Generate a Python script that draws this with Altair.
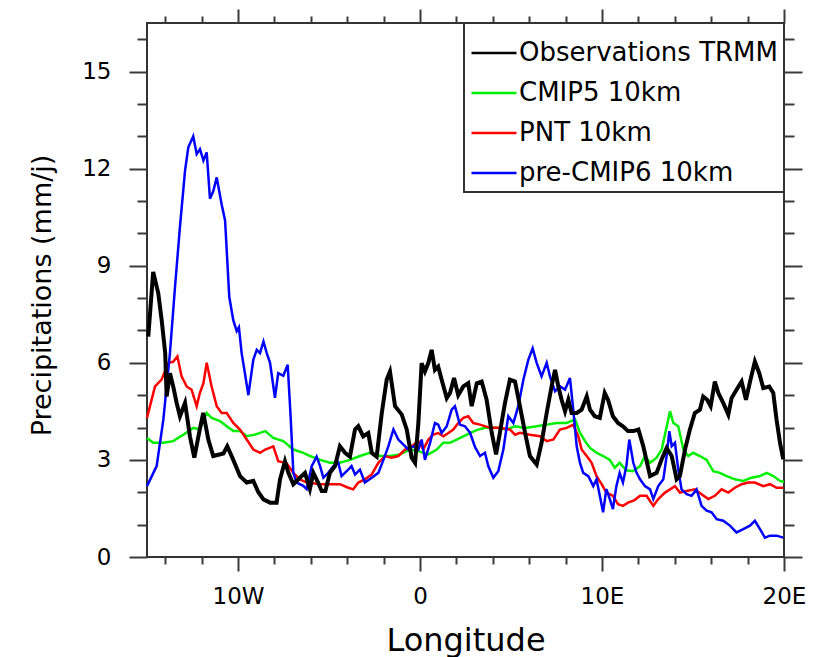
import altair as alt
import pandas as pd

FONT = "DejaVu Sans"
TICK = "#3a3a3a"

series_names = ["Observations TRMM", "CMIP5 10km", "PNT 10km", "pre-CMIP6 10km"]
series_colors = ["#000000", "#00ee00", "#ff0000", "#0000ff"]

x_major = [-10, 0, 10, 20]
x_minor = [-14, -12, -8, -6, -4, -2, 2, 4, 6, 8, 12, 14, 16, 18]
y_major = [0, 3, 6, 9, 12, 15]
y_minor = [1, 2, 4, 5, 7, 8, 10, 11, 13, 14, 16]

obs_lon = [-14.93, -14.66, -14.38, -14.19, -14.0, -13.92, -13.74, -13.56, -13.37, -13.19,
           -12.91, -12.64, -12.4, -12.1, -11.91, -11.63, -11.36, -10.8, -10.59, -10.26,
           -9.89, -9.52, -9.16, -8.88, -8.6, -8.24, -7.88, -7.69, -7.42, -7.23,
           -6.96, -6.6, -6.32, -6.05, -5.86, -5.6, -5.4, -5.2, -4.95, -4.67,
           -4.4, -4.12, -3.85, -3.57, -3.39, -3.12, -2.84, -2.65, -2.38, -2.1,
           -1.83, -1.65, -1.37, -1.0, -0.73, -0.46, -0.27, -0.09, 0.09, 0.27,
           0.46, 0.64, 0.82, 1.0, 1.19, 1.47, 1.65, 1.87, 2.1, 2.38,
           2.65, 2.84, 3.12, 3.39, 3.66, 3.94, 4.18, 4.39, 4.67, 4.94,
           5.22, 5.49, 5.77, 6.04, 6.41, 6.68, 6.96, 7.23, 7.42, 7.6,
           7.78, 7.97, 8.15, 8.33, 8.61, 8.88, 9.16, 9.34, 9.6, 9.88,
           10.15, 10.33, 10.6, 10.88, 11.15, 11.43, 11.72, 12.0, 12.27, 12.64,
           13.0, 13.28, 13.55, 13.83, 14.1, 14.28, 14.56, 14.83, 15.1, 15.38,
           15.56, 15.78, 15.97, 16.2, 16.39, 16.66, 16.94, 17.12, 17.39, 17.67,
           17.91, 18.16, 18.4, 18.64, 18.86, 19.19, 19.41, 19.59, 19.78, 19.96]
obs_val = [6.81, 8.81, 8.15, 7.3, 6.3, 4.96, 5.68, 5.27, 4.76, 4.35,
           4.76, 3.73, 3.07, 3.94, 4.45, 3.63, 3.12, 3.2, 3.42, 3.0,
           2.5, 2.3, 2.35, 2.0, 1.78, 1.68, 1.68, 2.4, 2.96, 2.6,
           2.25, 2.45, 2.6, 2.1, 2.6, 2.3, 2.04, 2.04, 2.6, 2.81,
           3.42, 3.22, 3.1, 3.94, 4.04, 3.73, 3.83, 3.22, 3.1, 4.45,
           5.48, 5.73, 4.66, 4.4, 3.94, 3.07, 2.91, 4.14, 5.99, 5.73,
           6.0, 6.4, 5.78, 5.88, 5.48, 4.91, 5.07, 5.53, 5.0, 5.27,
           5.37, 4.66, 5.37, 5.42, 4.86, 3.84, 3.17, 3.84, 4.76, 5.48,
           5.42, 4.66, 3.84, 3.12, 2.86, 3.53, 4.45, 5.27, 5.78, 5.27,
           4.86, 4.5, 4.86, 4.45, 4.45, 4.55, 4.96, 4.55, 4.35, 4.3,
           5.07, 4.86, 4.35, 4.14, 4.04, 3.89, 3.89, 3.94, 3.42, 2.5,
           2.6, 3.02, 3.37, 3.12, 2.4, 2.5, 3.32, 3.94, 4.45, 4.55,
           4.96, 4.86, 4.66, 5.42, 5.07, 4.76, 4.4, 4.91, 5.17, 5.42,
           4.86, 5.48, 6.04, 5.68, 5.22, 5.27, 5.07, 4.25, 3.53, 3.02]

cmip5_lon = [-15.0, -14.66, -14.1, -13.56, -13.0, -12.46, -12.1, -11.72, -11.45, -10.99,
             -10.62, -10.26, -9.89, -9.52, -9.07, -8.5, -8.06, -7.51, -6.96, -6.41,
             -6.04, -5.49, -4.95, -4.4, -3.85, -3.3, -2.75, -2.2, -1.65, -1.1,
             -0.55, -0.09, 0.46, 0.92, 1.28, 1.65, 2.01, 2.38, 2.74, 3.11,
             3.57, 4.21, 4.76, 5.22, 5.77, 6.41, 6.96, 7.51, 8.06, 8.52,
             8.79, 9.07, 9.34, 9.7, 10.06, 10.43, 10.7, 10.97, 11.34, 11.7,
             12.09, 12.36, 12.64, 13.0, 13.28, 13.52, 13.74, 13.92, 14.19, 14.47,
             14.74, 15.01, 15.38, 15.75, 16.11, 16.48, 16.85, 17.3, 17.76, 18.22,
             18.68, 19.05, 19.41, 19.78, 20.0]
cmip5_val = [3.68, 3.53, 3.53, 3.58, 3.78, 3.99, 3.94, 4.45, 4.3, 4.2,
             4.04, 3.89, 3.89, 3.73, 3.78, 3.89, 3.68, 3.58, 3.32, 3.22,
             3.12, 3.0, 2.91, 2.91, 3.0, 3.12, 3.22, 3.12, 3.12, 3.17,
             3.32, 3.27, 3.17, 3.32, 3.53, 3.53, 3.63, 3.73, 3.83, 3.92,
             3.99, 3.99, 3.94, 4.04, 3.99, 4.04, 4.09, 4.14, 4.14, 4.25,
             3.84, 3.58, 3.37, 3.22, 3.12, 3.0, 2.76, 2.91, 2.68, 2.65,
             2.81, 3.12, 2.91, 3.07, 3.32, 3.94, 4.5, 4.14, 4.04, 3.32,
             3.12, 3.22, 3.12, 3.0, 2.65, 2.6, 2.5, 2.4, 2.35, 2.45,
             2.5, 2.6, 2.5, 2.35, 2.32]

pnt_lon = [-15.0, -14.56, -14.2, -13.83, -13.56, -13.33, -13.1, -12.82, -12.55, -12.27,
           -12.1, -11.9, -11.72, -11.45, -11.17, -10.9, -10.62, -10.26, -9.89, -9.52,
           -9.16, -8.79, -8.5, -8.06, -7.79, -7.33, -6.96, -6.6, -6.23, -5.86,
           -5.49, -4.95, -4.4, -3.94, -3.67, -3.39, -3.03, -2.65, -2.29, -1.92,
           -1.56, -1.19, -0.82, -0.46, -0.09, 0.18, 0.46, 0.73, 1.0, 1.28,
           1.56, 1.83, 2.1, 2.38, 2.65, 2.93, 3.3, 3.85, 4.39, 4.94,
           5.22, 5.49, 6.04, 6.59, 6.96, 7.33, 7.69, 8.06, 8.42, 8.7,
           8.88, 9.16, 9.43, 9.7, 9.98, 10.24, 10.6, 10.88, 11.15, 11.43,
           11.79, 12.09, 12.45, 12.82, 13.09, 13.46, 13.74, 14.01, 14.28, 14.65,
           15.1, 15.47, 15.84, 16.2, 16.57, 16.94, 17.3, 17.67, 18.04, 18.4,
           18.86, 19.23, 19.59, 19.96]
pnt_val = [4.3, 5.27, 5.48, 6.0, 6.03, 6.2, 5.58, 5.27, 5.17, 4.66,
           5.06, 5.37, 6.0, 5.27, 4.66, 4.45, 4.45, 4.14, 3.94, 3.63,
           3.32, 3.22, 3.32, 3.42, 2.96, 2.9, 2.6, 2.4, 2.3, 2.28,
           2.25, 2.25, 2.25, 2.14, 2.09, 2.3, 2.4, 2.55, 2.91, 3.12,
           3.07, 3.12, 3.32, 3.42, 3.58, 3.32, 3.63, 3.78, 3.83, 3.73,
           3.83, 3.94, 4.14, 4.3, 4.35, 4.14, 4.09, 3.99, 3.99, 3.94,
           3.78, 3.84, 3.78, 3.73, 3.58, 3.63, 3.94, 3.99, 4.09, 3.73,
           3.32, 3.12, 2.91, 2.5, 2.25, 1.99, 1.89, 1.63, 1.58, 1.68,
           1.76, 1.89, 1.89, 1.58, 1.79, 1.99, 2.09, 2.19, 1.99, 2.04,
           2.09, 1.94, 1.79, 1.89, 2.09, 1.99, 2.14, 2.25, 2.3, 2.3,
           2.19, 2.25, 2.14, 2.14]

pre6_lon = [-15.0, -14.47, -14.1, -13.74, -13.46, -13.19, -12.91, -12.73, -12.46, -12.27,
            -12.09, -11.9, -11.72, -11.54, -11.36, -11.17, -10.9, -10.71, -10.59, -10.48,
            -10.26, -10.07, -9.95, -9.8, -9.62, -9.43, -9.16, -8.97, -8.79, -8.6,
            -8.42, -8.24, -7.97, -7.79, -7.51, -7.27, -7.1, -6.96, -6.78, -6.41,
            -6.23, -5.95, -5.68, -5.49, -5.31, -5.04, -4.76, -4.49, -4.31, -4.03,
            -3.76, -3.57, -3.3, -3.03, -2.65, -2.29, -2.01, -1.74, -1.46, -1.19,
            -0.91, -0.64, -0.36, -0.09, 0.09, 0.27, 0.55, 0.82, 1.0, 1.19,
            1.47, 1.74, 1.92, 2.19, 2.47, 2.75, 3.02, 3.3, 3.57, 3.75,
            4.03, 4.3, 4.58, 4.85, 5.13, 5.4, 5.68, 5.95, 6.19, 6.41,
            6.68, 6.96, 7.14, 7.42, 7.69, 7.97, 8.24, 8.42, 8.61, 8.79,
            8.97, 9.25, 9.52, 9.7, 9.88, 10.06, 10.24, 10.43, 10.6, 10.79,
            10.97, 11.15, 11.34, 11.5, 11.72, 11.9, 12.09, 12.36, 12.64, 12.82,
            13.09, 13.37, 13.55, 13.7, 13.83, 14.01, 14.19, 14.37, 14.65, 14.92,
            15.2, 15.47, 15.75, 16.02, 16.3, 16.66, 17.03, 17.39, 17.76, 18.13,
            18.4, 18.68, 18.95, 19.23, 19.59, 19.96]
pre6_val = [2.19, 2.81, 4.25, 6.3, 8.35, 10.2, 11.94, 12.66, 13.0, 12.45,
            12.6, 12.25, 12.5, 11.07, 11.3, 11.73, 10.9, 10.4, 9.17, 8.04,
            7.32, 6.98, 7.1, 6.3, 5.68, 5.0, 6.09, 6.4, 6.3, 6.66,
            6.3, 6.0, 4.92, 5.68, 5.6, 5.94, 4.25, 2.6, 2.3, 2.2,
            2.1, 2.81, 3.1, 2.81, 2.45, 2.6, 2.81, 2.91, 2.5, 2.65,
            2.81, 2.55, 2.7, 2.3, 2.45, 2.6, 3.0, 3.42, 3.94, 3.63,
            3.47, 3.32, 3.42, 3.32, 3.63, 3.0, 3.52, 4.14, 4.09, 3.83,
            4.04, 4.55, 4.66, 4.09, 4.04, 3.84, 3.4, 3.12, 3.22, 2.81,
            2.45, 2.65, 3.32, 4.35, 4.14, 4.66, 5.48, 6.09, 6.45, 6.0,
            5.58, 6.0, 5.58, 5.12, 5.27, 5.17, 5.53, 4.55, 3.42, 2.91,
            2.6, 2.5, 2.19, 2.4, 1.89, 1.38, 2.1, 1.79, 1.48, 2.19,
            2.6, 2.3, 2.81, 3.63, 2.91, 2.6, 2.4, 2.19, 2.09, 1.79,
            2.19, 2.4, 3.12, 3.89, 3.42, 3.53, 2.7, 2.09, 1.94, 1.89,
            2.09, 1.58, 1.43, 1.38, 1.17, 1.12, 0.97, 0.76, 0.86, 0.97,
            1.12, 0.86, 0.6, 0.66, 0.66, 0.6]

rows = []
for name, lons, vals in [(series_names[0], obs_lon, obs_val),
                         (series_names[1], cmip5_lon, cmip5_val),
                         (series_names[2], pnt_lon, pnt_val),
                         (series_names[3], pre6_lon, pre6_val)]:
    for lo, v in zip(lons, vals):
        rows.append({"lon": lo, "precip": v, "series": name})
df = pd.DataFrame(rows)

x_scale = alt.Scale(domain=[-15, 20], nice=False, zero=False)
y_scale = alt.Scale(domain=[0, 16.5], nice=False, zero=False)

color = alt.Color(
    "series:N",
    sort=series_names,
    scale=alt.Scale(domain=series_names, range=series_colors),
    legend=alt.Legend(
        orient="top-right", offset=0, title=None,
        symbolType="stroke", symbolSize=2025, symbolStrokeWidth=2.5,
        labelFont=FONT, labelFontSize=26, labelColor="black", labelLimit=500,
        labelOffset=1, padding=6, rowPadding=3,
        strokeColor="#333333", fillColor="white",
    ),
)

common_ax = dict(domain=False, grid=False, tickColor=TICK, tickWidth=2)

x_bottom = alt.Axis(
    orient="bottom", values=x_major, tickSize=14, labelFlush=False, labelOverlap=False,
    labelExpr="datum.value == 0 ? '0' : (datum.value < 0 ? abs(datum.value) + 'W' : datum.value + 'E')",
    labelFont=FONT, labelFontSize=23, labelColor="black", labelPadding=14,
    title="Longitude", titleFont=FONT, titleFontSize=32, titleFontWeight="normal",
    titleColor="black", titleBaseline="alphabetic", titleY=93, **common_ax)
y_left = alt.Axis(
    orient="left", values=y_major, tickSize=18, labelFlush=False, labelOverlap=False,
    labelFont=FONT, labelFontSize=23, labelColor="black", labelPadding=18,
    title="Precipitations (mm/j)", titleFont=FONT, titleFontSize=27, titleFontWeight="normal",
    titleColor="black", titleAngle=270, titleAlign="center", titleBaseline="alphabetic",
    titleX=-97, titleY=272, **common_ax)
x_top = alt.Axis(orient="top", values=x_major, tickSize=14, labels=False, title=None, **common_ax)
y_right = alt.Axis(orient="right", values=y_major, tickSize=18, labels=False, title=None, **common_ax)
x_bottom_minor = alt.Axis(orient="bottom", values=x_minor, tickSize=7, labels=False, title=None, **common_ax)
y_left_minor = alt.Axis(orient="left", values=y_minor, tickSize=10, labels=False, title=None, **common_ax)
x_top_minor = alt.Axis(orient="top", values=x_minor, tickSize=7, labels=False, title=None, **common_ax)
y_right_minor = alt.Axis(orient="right", values=y_minor, tickSize=10, labels=False, title=None, **common_ax)

base = alt.Chart(df)

colored = base.transform_filter(
    alt.datum.series != series_names[0]
).mark_line(strokeWidth=2.5).encode(
    x=alt.X("lon:Q", scale=x_scale, axis=x_top),
    y=alt.Y("precip:Q", scale=y_scale, axis=y_right),
    color=color,
)

black = base.transform_filter(
    alt.datum.series == series_names[0]
).mark_line(strokeWidth=4).encode(
    x=alt.X("lon:Q", scale=x_scale, axis=x_bottom),
    y=alt.Y("precip:Q", scale=y_scale, axis=y_left),
    color=color,
)

minor1 = base.mark_line(opacity=0).encode(
    x=alt.X("lon:Q", scale=x_scale, axis=x_bottom_minor),
    y=alt.Y("precip:Q", scale=y_scale, axis=y_left_minor),
)
minor2 = base.mark_line(opacity=0).encode(
    x=alt.X("lon:Q", scale=x_scale, axis=x_top_minor),
    y=alt.Y("precip:Q", scale=y_scale, axis=y_right_minor),
)

chart = alt.layer(colored, black, minor1, minor2).resolve_axis(
    x="independent", y="independent"
).properties(
    width=637, height=534,
    autosize=alt.AutoSizeParams(type="none"),
    padding={"left": 147, "top": 23, "right": 33, "bottom": 100},
).configure_view(
    stroke="#333333", strokeWidth=2
).configure_legend(
    strokeWidth=2
)

chart.save("out.html", embed_options={"renderer": "svg", "actions": False})
